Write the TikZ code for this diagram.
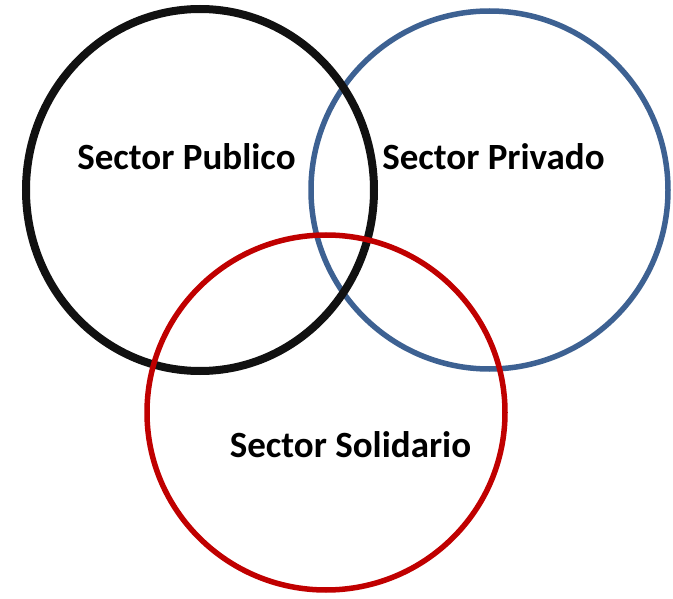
\documentclass[tikz,border=0pt]{standalone}
\usepackage{fontspec}
\setmainfont{Carlito}
\usetikzlibrary{positioning}

\definecolor{publicblack}{HTML}{111111}
\definecolor{privateblue}{HTML}{3D6192}
\definecolor{solidred}{HTML}{C00000}

\begin{document}
\begin{tikzpicture}[x=1pt, y=-1pt,
    ring/.style={line width=5.5pt},
    sectorname/.style={font=\bfseries\fontsize{37}{44}\selectfont, inner sep=0pt}]
            \useasboundingbox (0, 0) rectangle (673, 599);
            \draw[ring, privateblue] (489.5, 190) ellipse [x radius=178.5pt, y radius=179pt];
            \draw[ring, publicblack, line width=8pt] (200, 190) ellipse [x radius=174pt, y radius=181pt];
            \draw[ring, solidred] (326, 412.5) ellipse [x radius=179pt, y radius=177.5pt];
            \node[sectorname] (publico) at (186.5, 157) {Sector Publico};
            \node[sectorname] (privado) at (493.5, 157) {Sector Privado};
            \node[sectorname] (solidario) at (350.5, 445) {Sector Solidario};
        \end{tikzpicture}
\end{document}
